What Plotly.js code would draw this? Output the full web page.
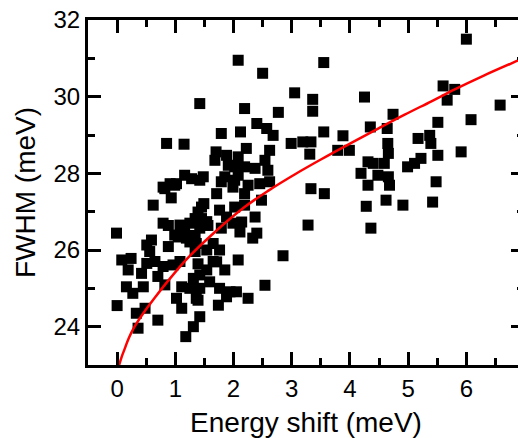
<!DOCTYPE html>
<html>
<head>
<meta charset="utf-8">
<script src="https://cdn.plot.ly/plotly-3.0.1.min.js"></script>
<style>
html,body{margin:0;padding:0;overflow:hidden;background:#fff;}
#chart{width:528px;height:438px;}
</style>
</head>
<body>
<div id="chart"></div>
<script>
// Scatter data: energy shift (meV) vs FWHM (meV)
const energyShift = [
-0.01,0.08,0.24,0.19,0.16,0.27,0.45,0.00,0.33,0.48,0.36,0.70,0.51,0.59,0.56,0.42,0.51,0.65,0.79,0.70,0.82,0.96,0.88,0.79,0.99,0.62,0.82,0.99,0.93,0.79,0.91,0.85,0.88,
1.16,1.08,1.25,1.42,1.19,1.36,1.34,1.08,1.31,1.11,1.25,1.02,1.11,1.36,1.42,1.31,1.18,1.16,1.42,1.15,1.02,1.28,1.39,1.34,1.05,1.25,1.42,1.34,1.42,1.42,1.39,1.39,1.45,1.45,1.48,1.49,
1.54,1.79,1.54,1.65,1.76,1.65,1.85,1.54,1.59,1.76,1.94,2.05,1.88,2.25,1.74,2.40,2.33,2.08,1.71,2.54,2.08,2.50,2.19,1.79,2.12,2.40,1.70,1.88,2.22,1.68,1.91,2.02,2.19,2.37,2.08,1.85,2.08,1.79,2.02,2.25,2.45,1.71,2.19,2.48,2.19,2.02,1.76,2.37,2.14,1.56,2.62,2.54,2.59,2.62,2.57,2.68,2.77,1.99,2.11,1.88,1.99,
2.85,3.28,4.36,3.05,3.55,3.36,3.36,4.25,4.74,5.60,5.80,5.67,6.00,6.58,6.08,3.55,3.88,4.35,4.64,5.51,2.99,3.19,3.33,3.31,3.79,3.99,4.65,4.66,5.17,5.37,5.39,5.51,5.91,4.31,4.59,4.99,5.22,5.11,4.19,4.31,4.48,4.68,5.48,3.33,3.56,4.62,4.28,4.91,5.42,4.40,4.66
];
const fwhm = [
26.44,25.74,25.78,25.48,25.04,24.87,25.04,24.55,24.35,24.48,23.96,24.17,26.13,26.26,25.96,25.39,25.65,25.70,25.57,25.31,25.09,25.61,26.09,26.70,26.39,27.17,27.60,27.69,27.36,27.64,27.73,28.78,26.64,
26.48,26.65,26.70,26.57,26.31,26.17,25.96,25.70,25.26,25.04,25.00,24.74,24.48,24.74,24.26,24.00,23.74,27.95,27.82,28.76,27.73,27.86,26.99,26.82,26.34,26.21,29.82,26.38,25.35,25.00,25.64,24.69,27.12,26.82,27.91,27.21,
26.74,26.57,26.00,26.17,26.00,25.70,25.48,25.48,25.17,25.00,24.91,24.91,24.78,24.74,24.56,26.44,26.31,25.74,25.69,25.08,30.95,30.61,29.69,29.04,29.08,29.30,28.56,28.47,28.65,28.34,28.21,28.17,28.17,28.13,28.43,27.91,27.95,27.78,27.82,27.69,27.73,27.47,27.47,27.30,27.17,27.12,27.04,26.86,26.73,26.64,28.60,28.34,28.08,27.78,29.17,28.99,29.59,26.70,26.47,26.86,27.64,
25.85,26.65,26.57,30.10,30.89,29.93,29.62,29.99,29.54,30.28,30.19,29.91,31.50,29.78,29.40,29.08,28.98,29.21,29.17,29.33,28.78,28.82,28.82,28.50,28.60,28.60,28.78,28.52,28.91,28.99,28.78,28.47,28.56,28.30,28.26,28.17,28.39,28.26,28.00,27.69,27.95,27.69,27.78,27.60,27.47,27.30,27.14,27.17,27.25,28.26,27.91
];
// Fit curve, points
const fitX = [0.035,0.08,0.13,0.2,0.3,0.45,0.65,0.9,1.22,1.6,2.19,2.6,3.05,3.5,4.08,4.5,4.94,5.4,5.8,6.3,6.88,7.0];
const fitY = [23.00,23.22,23.42,23.70,24.00,24.35,24.76,25.24,25.80,26.36,27.12,27.55,27.97,28.36,28.84,29.18,29.53,29.88,30.19,30.55,30.94,31.02];

const xTitle = 'Energy shift (meV)';
const yTitle = 'FWHM (meV)';
const xRange = [-0.5, 6.99];
const yRange = [23, 32];

const font = 'Liberation Sans, Arial, Helvetica, sans-serif';

const traces = [
  {x: energyShift, y: fwhm, type: 'scatter', mode: 'markers',
   marker: {symbol: 'square', size: 11, color: '#000000', line: {width: 0}},
   hoverinfo: 'skip', showlegend: false},
  {x: fitX, y: fitY, type: 'scatter', mode: 'lines',
   line: {color: '#ff0000', width: 2.5, shape: 'spline'},
   hoverinfo: 'skip', showlegend: false}
];

const axisCommon = {
  showline: true, linewidth: 3, linecolor: '#000', mirror: 'ticks',
  ticks: 'inside', ticklen: 13, tickwidth: 3, tickcolor: '#000',
  showgrid: false, zeroline: false,
  tickfont: {family: font, size: 24, color: '#000'}
};

const layout = {
  width: 528, height: 438,
  margin: {l: 88, r: 4, t: 20, b: 73},
  paper_bgcolor: '#fff', plot_bgcolor: '#fff',
  showlegend: false,
  font: {family: font, color: '#000'},
  xaxis: Object.assign({}, axisCommon, {
    range: xRange, tick0: 0, dtick: 1,
    minor: {dtick: 0.5, tick0: 0, ticks: 'inside', ticklen: 7, tickwidth: 3, tickcolor: '#000', showgrid: false},
    title: {text: xTitle, font: {family: font, size: 28, color: '#000'}, standoff: 12}
  }),
  yaxis: Object.assign({}, axisCommon, {
    range: yRange, tick0: 24, dtick: 2,
    minor: {dtick: 1, tick0: 23, ticks: 'inside', ticklen: 7, tickwidth: 3, tickcolor: '#000', showgrid: false},
    title: {text: yTitle, font: {family: font, size: 28, color: '#000'}, standoff: 10}
  })
};

Plotly.newPlot('chart', traces, layout, {staticPlot: true, displayModeBar: false});
</script>
</body>
</html>
